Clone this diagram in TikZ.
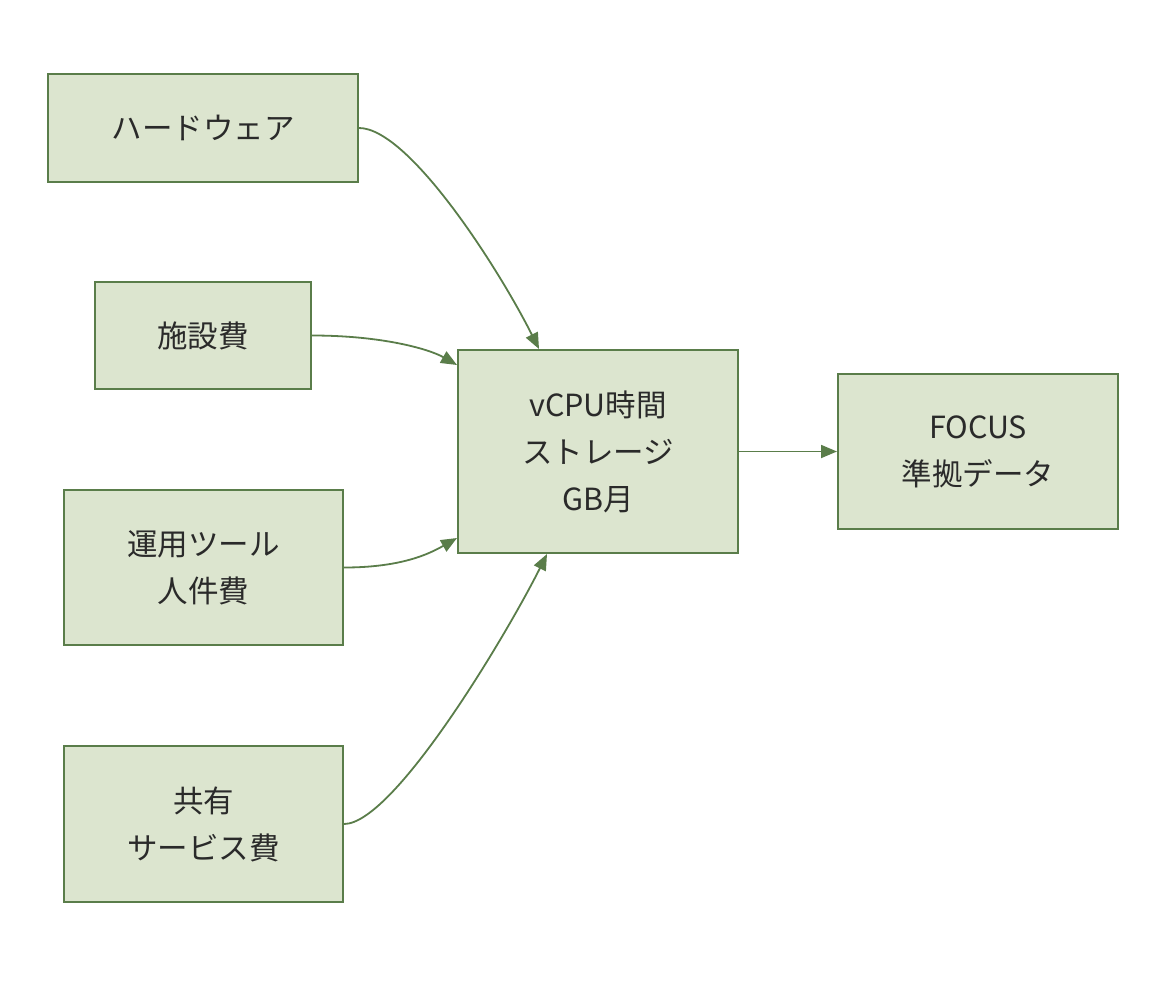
\documentclass[tikz,border=0pt]{standalone}
\usepackage{fontspec}
\setmainfont{Noto Sans CJK JP}
\usetikzlibrary{arrows.meta,calc}
\definecolor{boxfill}{HTML}{DCE5CF}
\definecolor{boxline}{HTML}{5A7D4A}
\definecolor{txt}{HTML}{2A2A2A}
\begin{document}
\begin{tikzpicture}[x=1pt,y=-1pt,
  box/.style={draw=boxline,fill=boxfill,line width=2pt,inner sep=0pt,
    align=center,text=txt,font=\fontsize{30.5}{47}\selectfont},
  conn/.style={draw=boxline,line width=1.8pt,-{Triangle[length=16pt,width=13pt]}}]
\useasboundingbox (0,0) rectangle (1166,980);
\node[box,minimum width=310pt,minimum height=108pt] (hw) at (203,128) {ハードウェア};
\node[box,minimum width=216pt,minimum height=107pt] (fac) at (203,335.5) {施設費};
\node[box,minimum width=279pt,minimum height=155pt] (ops) at (203.5,567.5) {運用ツール\\人件費};
\node[box,minimum width=279pt,minimum height=156pt] (shr) at (203.5,824) {共有\\サービス費};
\node[box,minimum width=280pt,minimum height=203pt] (mid) at (598,451.5) {vCPU時間\\ストレージ\\GB月};
\node[box,minimum width=280pt,minimum height=155pt] (focus) at (978,451.5) {FOCUS\\準拠データ};
\coordinate (m1) at ($(mid.north west)+(82,0)$);
\coordinate (m2) at ($(mid.north west)+(0,16)$);
\coordinate (m3) at ($(mid.south west)+(0,-16)$);
\coordinate (m4) at ($(mid.south west)+(90,0)$);
\draw[conn] (hw.east) .. controls +(50,0) and +(-40,-80) .. (m1);
\draw[conn] (fac.east) .. controls +(70,0) and +(-28,-16) .. (m2);
\draw[conn] (ops.east) .. controls +(57,0) and +(-28,16) .. (m3);
\draw[conn] (shr.east) .. controls +(50,0) and +(-40,80) .. (m4);
\draw[conn] (mid.east) -- (focus.west);
\end{tikzpicture}
\end{document}
